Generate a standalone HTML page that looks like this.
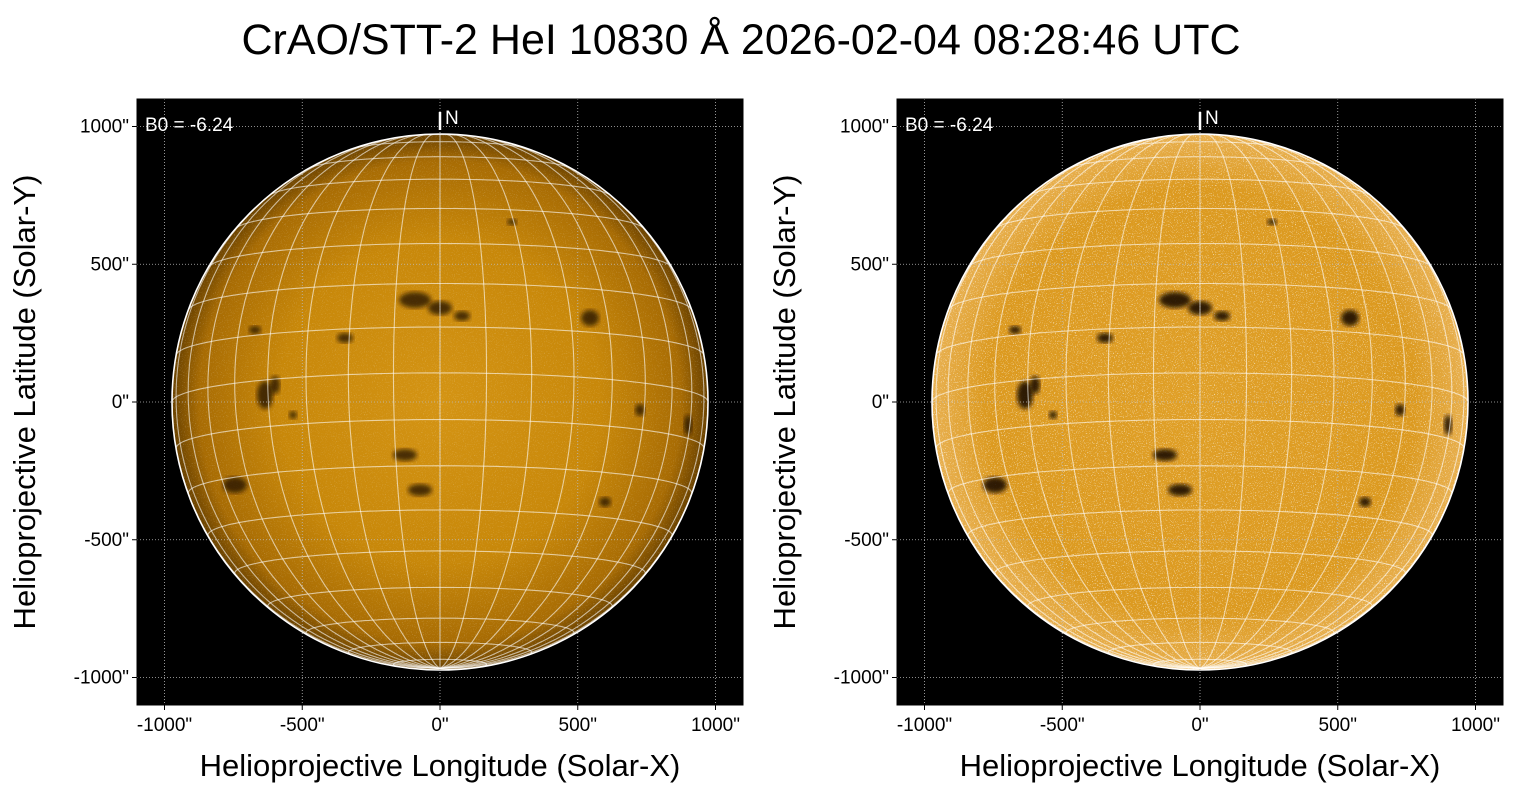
<!DOCTYPE html>
<html><head><meta charset="utf-8"><style>
body{margin:0;background:#fff;width:1520px;height:795px;overflow:hidden;font-family:"Liberation Sans","DejaVu Sans",sans-serif}
</style></head><body>
<svg id="s" width="1520" height="795" xmlns="http://www.w3.org/2000/svg" font-family="Liberation Sans, DejaVu Sans, sans-serif">
<defs>
<radialGradient id="gL" cx="50%" cy="50%" r="50%">
<stop offset="0" stop-color="#d49414"/><stop offset="0.6" stop-color="#c8880a"/><stop offset="0.9" stop-color="#a86c04"/><stop offset="1" stop-color="#6a4200"/></radialGradient>
<radialGradient id="gR" cx="50%" cy="50%" r="50%">
<stop offset="0" stop-color="#e0a028"/><stop offset="0.8" stop-color="#dc9a20"/><stop offset="1" stop-color="#e8b050"/></radialGradient>
<filter id="bl"><feGaussianBlur stdDeviation="2.5"/></filter>
<filter id="sp" x="0" y="0" width="100%" height="100%"><feTurbulence type="fractalNoise" baseFrequency="0.9" numOctaves="1" seed="3"/><feColorMatrix values="0 0 0 0 1  0 0 0 0 1  0 0 0 0 1  0 0 0 9 -5.4"/></filter>
<clipPath id="cL"><circle cx="440" cy="402" r="268"/></clipPath>
<clipPath id="cR"><circle cx="1200" cy="402" r="268"/></clipPath>
</defs>
<text x="741" y="54" font-size="43" text-anchor="middle">CrAO/STT-2 HeI 10830 Å 2026-02-04 08:28:46 UTC</text>
<g id="panels"></g>
</svg>
<script>
const svg=document.getElementById('panels');let h='';
const spots=[[415,300,16,8],[440,308,12,7],[462,316,8,5],[265,395,8,14],[275,385,5,9],[235,485,12,8],[590,318,9,8],[688,425,4,10],[405,455,12,6],[420,490,12,6],[605,502,6,5],[512,222,5,3],[255,330,6,4],[345,338,8,5],[293,415,4,4],[640,410,5,6]];
function panel(ox,grad,clip,right){
 const cx=ox+303,cy=402,R=268;
 h+=`<rect x="${ox}" y="99" width="606" height="606" fill="#000"/>`;
 h+=`<circle cx="${cx}" cy="${cy}" r="${R}" fill="url(#${grad})"/>`;
 h+=`<g clip-path="url(#${clip})">`;
 h+=`<rect x="${cx-R}" y="${cy-R}" width="${2*R}" height="${2*R}" filter="url(#sp)" opacity="${right?0.55:0.15}"/>`;
 for(const s of spots){h+=`<ellipse cx="${s[0]-440+cx}" cy="${s[1]}" rx="${s[2]}" ry="${s[3]}" fill="#1a0e00" opacity="${right?0.9:0.75}" filter="url(#bl)"/>`;}
 const B=-6.24*Math.PI/180,sb=Math.sin(B),cb=Math.cos(B);
 function P(la,lo){la*=Math.PI/180;lo*=Math.PI/180;const x=Math.cos(la)*Math.sin(lo),y=Math.sin(la)*cb-Math.cos(la)*Math.cos(lo)*sb,z=Math.sin(la)*sb+Math.cos(la)*Math.cos(lo)*cb;return [cx+x*R,cy-y*R,z];}
 function line(pts){let d='',pen=false;for(const p of pts){if(p[2]>0){d+=(pen?'L':'M')+p[0].toFixed(1)+' '+p[1].toFixed(1);pen=true}else pen=false}return `<path d="${d}" fill="none" stroke="#fff" stroke-opacity="0.6" stroke-width="1.1"/>`;}
 for(let la=-80;la<=80;la+=10){const p=[];for(let lo=-180;lo<=180;lo+=2)p.push(P(la,lo));h+=line(p);}
 for(let lo=-90;lo<=90;lo+=10){const p=[];for(let la=-90;la<=90;la+=2)p.push(P(la,lo));h+=line(p);}
 h+=`</g><circle cx="${cx}" cy="${cy}" r="${R}" fill="none" stroke="#fff" stroke-width="1.6"/>`;
 const ticks=[-1000,-500,0,500,1000];
 for(const t of ticks){const px=cx+t*0.2755,py=cy-t*0.2755;
  h+=`<line x1="${px}" y1="99" x2="${px}" y2="705" stroke="#bbb" stroke-width="0.8" stroke-dasharray="1,2"/>`;
  h+=`<line x1="${ox}" y1="${py}" x2="${ox+606}" y2="${py}" stroke="#bbb" stroke-width="0.8" stroke-dasharray="1,2"/>`;
  h+=`<line x1="${px}" y1="705" x2="${px}" y2="710" stroke="#000"/>`;
  h+=`<line x1="${ox}" y1="${py}" x2="${ox-5}" y2="${py}" stroke="#000"/>`;
  h+=`<text x="${px}" y="731" font-size="19" text-anchor="middle">${t}"</text>`;
  h+=`<text x="${ox-8}" y="${py+6}" font-size="19" text-anchor="end">${t}"</text>`;}
 h+=`<rect x="${ox}" y="99" width="606" height="606" fill="none" stroke="#000" stroke-width="1"/>`;
 h+=`<line x1="${cx}" y1="112" x2="${cx}" y2="130" stroke="#fff" stroke-width="2.5"/><text x="${cx+5}" y="124" fill="#fff" font-size="19">N</text>`;
 h+=`<text x="${ox+8}" y="131" fill="#fff" font-size="19">B0 = -6.24</text>`;
 h+=`<text x="${cx}" y="776" font-size="31" text-anchor="middle">Helioprojective Longitude (Solar-X)</text>`;
 h+=`<text transform="translate(${ox-102},402) rotate(-90)" font-size="31" text-anchor="middle">Helioprojective Latitude (Solar-Y)</text>`;
}
panel(137,'gL','cL',false);panel(897,'gR','cR',true);
svg.innerHTML=h;
</script>
</body></html>
